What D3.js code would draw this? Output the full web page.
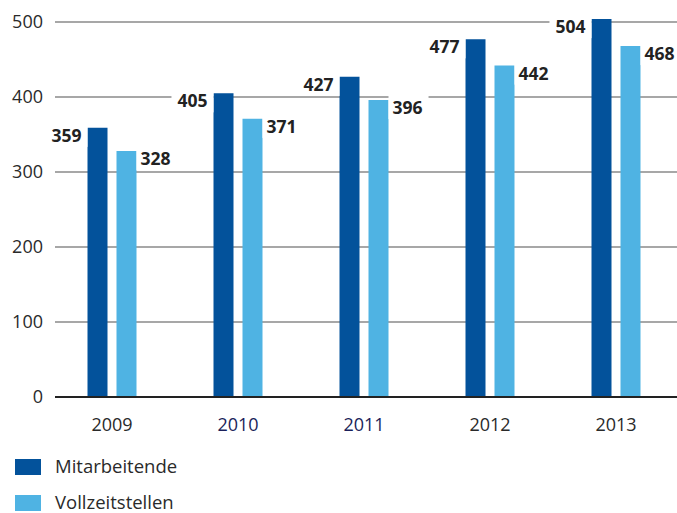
<!DOCTYPE html>
<html><head><meta charset="utf-8">
<script src="https://cdn.jsdelivr.net/npm/d3@7"></script>
<style>body{margin:0;background:#fff}svg{display:block}text{font-family:"Open Sans",sans-serif}</style>
</head><body><svg id="c" width="677" height="513"></svg>
<script>
const years = ["2009","2010","2011","2012","2013"];
const seriesNames = ["Mitarbeitende","Vollzeitstellen"];
const mitarbeitende = [359,405,427,477,504];
const vollzeitstellen = [328,371,396,442,468];
const yTicks = [0,100,200,300,400,500];
const yearColors = ["#2a2a2a","#1b1f5a","#1b1f5a","#2a2a2a","#2a2a2a"];
const colors = ["#03529b","#4fb3e3"];

const svg = d3.select("#c");
const y = d3.scaleLinear().domain([0,500]).range([397,22]);
const x0 = d3.scaleBand().domain(years).range([49,679]).paddingInner(0).paddingOuter(0);
const x1 = d3.scaleBand().domain(seriesNames).range([-24.5,24.5]).paddingInner(9/29).paddingOuter(0);
const values = [mitarbeitende, vollzeitstellen];
const cx = d => x0(d) + x0.bandwidth()/2;

// gridlines
svg.append("g").selectAll("line").data(yTicks.filter(t=>t>0)).join("line")
  .attr("x1",55).attr("x2",677).attr("y1",d=>y(d)).attr("y2",d=>y(d))
  .attr("stroke","#8a8a8a").attr("stroke-width",1.5);
// y labels
svg.append("g").selectAll("text").data(yTicks).join("text")
  .attr("x",43).attr("y",d=>y(d)).attr("dy","0.35em").attr("text-anchor","end")
  .attr("font-size",18).attr("fill","#2a2a2a").text(d=>d);

// bars
const g = svg.append("g");
seriesNames.forEach((s,si)=>{
  g.selectAll(null).data(years).join("rect")
    .attr("x",d=>cx(d)+x1(s)).attr("width",x1.bandwidth())
    .attr("y",(d,i)=>y(values[si][i])).attr("height",(d,i)=>y(0)-y(values[si][i]))
    .attr("fill",colors[si]);
});

// baseline
svg.append("line").attr("x1",55).attr("x2",677).attr("y1",y(0)).attr("y2",y(0))
  .attr("stroke","#222").attr("stroke-width",2);

// value labels with white backgrounds
const lab = svg.append("g");
years.forEach((yr,i)=>{
  const bl = cx(yr)+x1(seriesNames[0]);
  const t1 = lab.append("text").attr("x",bl-6).attr("y",y(mitarbeitende[i])+8).attr("dy","0.35em")
    .attr("text-anchor","end").attr("font-size",17.5).attr("font-weight","bold").attr("fill","#222")
    .text(mitarbeitende[i]);
  const b1 = t1.node().getBBox();
  lab.insert("rect","text").attr("x",b1.x-6).attr("y",b1.y).attr("width",bl-(b1.x-6)).attr("height",b1.height).attr("fill","#fff");
  const br = cx(yr)+x1(seriesNames[1])+x1.bandwidth();
  const t2 = lab.append("text").attr("x",br+4).attr("y",y(vollzeitstellen[i])+8).attr("dy","0.35em")
    .attr("text-anchor","start").attr("font-size",17.5).attr("font-weight","bold").attr("fill","#222")
    .text(vollzeitstellen[i]);
  const b2 = t2.node().getBBox();
  lab.insert("rect","text").attr("x",br).attr("y",b2.y).attr("width",b2.x+b2.width+6-br).attr("height",b2.height).attr("fill","#fff");
});

// x labels
svg.append("g").selectAll("text").data(years).join("text")
  .attr("x",d=>cx(d)).attr("y",425).attr("dy","0.35em").attr("text-anchor","middle")
  .attr("font-size",18).attr("fill",(d,i)=>yearColors[i]).text(d=>d);

// legend
const leg = svg.append("g").selectAll("g").data(seriesNames).join("g")
  .attr("transform",(d,i)=>`translate(15,${459+i*36})`);
leg.append("rect").attr("width",26).attr("height",16).attr("fill",(d,i)=>colors[i]);
leg.append("text").attr("x",40).attr("y",8).attr("dy","0.35em").attr("font-size",18.5).attr("fill","#2a2a2a").text(d=>d);
</script></body></html>
